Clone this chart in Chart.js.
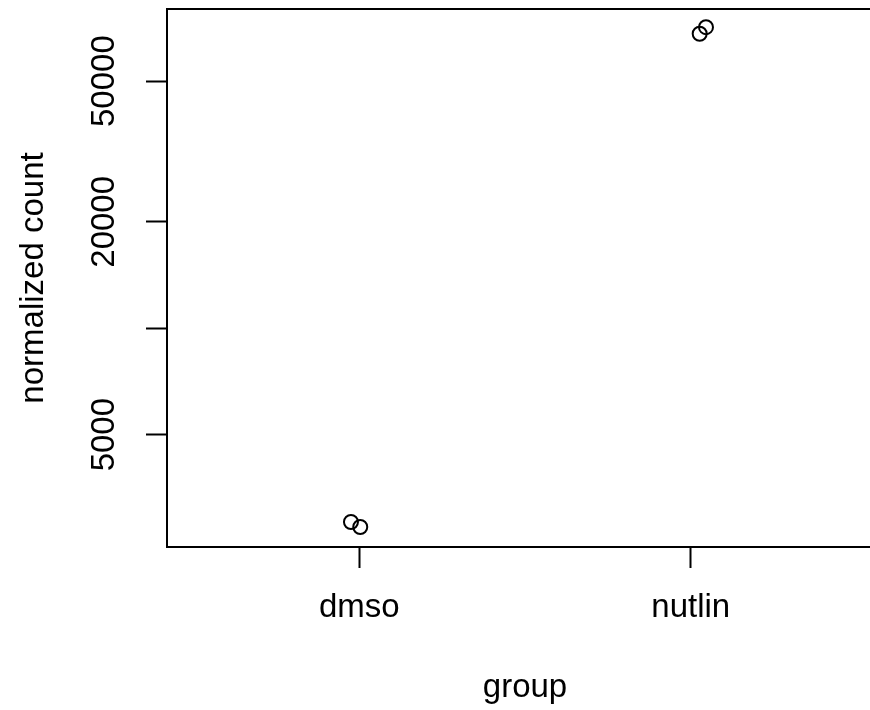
<!DOCTYPE html>
<html>
<head>
<meta charset="utf-8">
<script src="https://cdn.jsdelivr.net/npm/chart.js@4/dist/chart.umd.min.js"></script>
<style>
  html, body { margin: 0; padding: 0; background: #fff; overflow: hidden; }
  #wrap { width: 870px; height: 710px; overflow: hidden; }
  #wrap canvas { display: block; }
</style>
</head>
<body>
<div id="wrap"><canvas id="plot" width="900" height="710"></canvas></div>
<script>
const groups = ['dmso', 'nutlin']

// jittered x position of each sample (1 = dmso, 2 = nutlin) and its normalized count
const sampleX = [0.975, 1.003, 2.027, 2.046]
const sampleCounts = [2830, 2740, 68080, 71080]

const countTicks = [5000, 10000, 20000, 50000]
const countLabels = ['5000', '', '20000', '50000']

const FONT = '"Liberation Sans", Arial, Helvetica, sans-serif'

const topLine = {
  id: 'topLine',
  afterDraw(chart) {
    const { ctx, chartArea } = chart
    ctx.save()
    ctx.strokeStyle = '#000'
    ctx.lineWidth = 2
    ctx.beginPath()
    ctx.moveTo(chartArea.left - 1, chartArea.top)
    ctx.lineTo(chartArea.right + 20, chartArea.top)
    ctx.stroke()
    ctx.restore()
  }
}

new Chart(document.getElementById('plot'), {
  type: 'scatter',
  data: {
    datasets: [{
      data: sampleX.map((x, i) => ({ x: x, y: sampleCounts[i] })),
      pointStyle: 'circle',
      pointRadius: 7,
      pointBorderWidth: 2,
      pointBorderColor: '#000',
      pointBackgroundColor: 'rgba(0,0,0,0)'
    }]
  },
  options: {
    responsive: false,
    animation: false,
    layout: { padding: { top: 9, right: 17, left: 0, bottom: 0 } },
    plugins: { legend: { display: false }, tooltip: { enabled: false } },
    scales: {
      x: {
        type: 'linear',
        min: 0.42,
        max: 2.58,
        afterBuildTicks: scale => { scale.ticks = groups.map((g, i) => ({ value: i + 1 })) },
        afterFit: scale => { scale.height = 163 },
        grid: { drawOnChartArea: false, drawTicks: true, tickLength: 21, tickColor: '#000', tickWidth: 2 },
        border: { display: true, color: '#000', width: 2 },
        ticks: {
          autoSkip: false,
          color: '#000',
          padding: 20,
          maxRotation: 0,
          font: { family: FONT, size: 33 },
          callback: value => groups[value - 1] || ''
        },
        title: {
          display: true,
          text: 'group',
          color: '#000',
          font: { family: FONT, size: 33 },
          padding: { top: 0, bottom: 2 }
        }
      },
      y: {
        type: 'logarithmic',
        min: 2405,
        max: 80000,
        afterBuildTicks: scale => { scale.ticks = countTicks.map(v => ({ value: v })) },
        afterFit: scale => {
          scale.width = 167
          scale.paddingTop = 0
          scale.paddingBottom = 0
        },
        grid: { drawOnChartArea: false, drawTicks: true, tickLength: 21, tickColor: '#000', tickWidth: 2 },
        border: { display: true, color: '#000', width: 2 },
        ticks: {
          autoSkip: false,
          color: '#000',
          crossAlign: 'center',
          padding: -5,
          minRotation: 90,
          maxRotation: 90,
          font: { family: FONT, size: 33 },
          callback: value => countLabels[countTicks.indexOf(value)] ?? ''
        },
        title: {
          display: true,
          text: 'normalized count',
          color: '#000',
          font: { family: FONT, size: 33 },
          padding: { top: 14, bottom: 0 }
        }
      }
    }
  },
  plugins: [topLine]
})
</script>
</body>
</html>
